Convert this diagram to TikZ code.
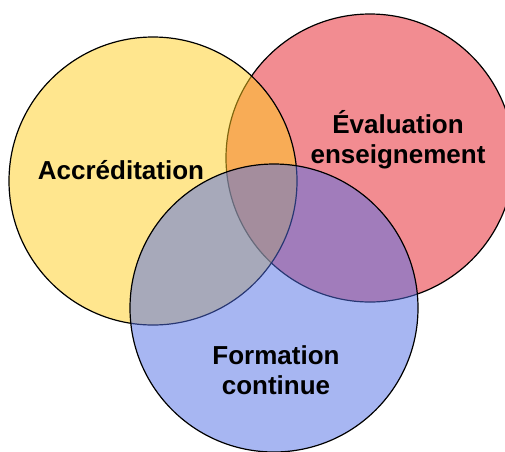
\documentclass[tikz,border=0pt]{standalone}
\usepackage{fontspec}
\setmainfont{Liberation Sans}
\definecolor{jaune}{RGB}{255,205,30}
\definecolor{rouge}{RGB}{230,25,35}
\definecolor{bleu}{RGB}{80,110,230}
\begin{document}
\begin{tikzpicture}[x=1pt,y=-1pt,
	cercle/.style={circle,draw=black,line width=1.2pt,minimum size=288pt,inner sep=0pt,fill opacity=0.5,text opacity=1},
	titre/.style={align=center,font=\bfseries\fontsize{26}{30}\selectfont}]
	\useasboundingbox (0,0) rectangle (505,451);
	\node[cercle,fill=rouge] (eval) at (370,158) {};
	\node[cercle,fill=jaune] (accr) at (153,181) {};
	\node[cercle,fill=bleu] (form) at (274,308) {};
	\node[titre] (taccr) at (121,170) {Accréditation};
	\node[titre] (teval) at (398,140) {Évaluation\\enseignement};
	\node[titre] (tform) at (276,370) {Formation\\continue};
\end{tikzpicture}
\end{document}
